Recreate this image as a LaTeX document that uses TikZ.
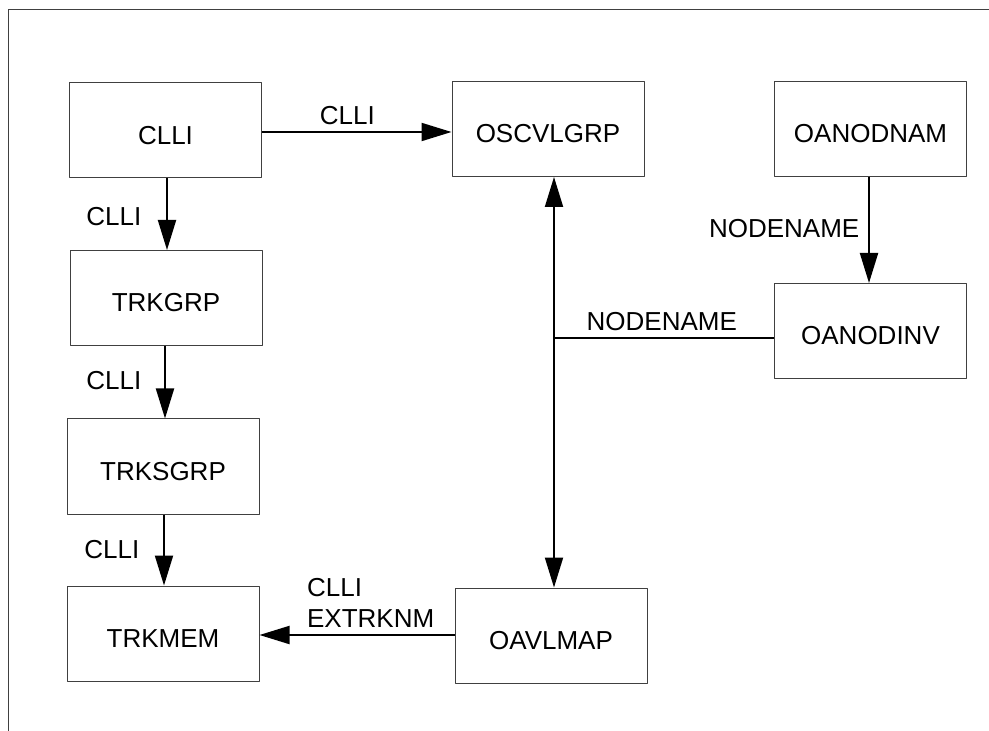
\documentclass[tikz,border=0pt]{standalone}
\usepackage{fontspec}
\setmainfont{Liberation Sans}
\usetikzlibrary{arrows.meta}
\begin{document}
\begin{tikzpicture}[x=0.5pt,y=-0.5pt,>={Triangle[length=15pt,width=9pt]},line join=round,
	font=\fontsize{13}{15.5}\selectfont,
	tbl/.style={draw=black!75,line width=0.5pt,minimum width=96pt,minimum height=47.5pt,inner sep=0pt,
		text height=14pt,text depth=0pt},
	link/.style={line width=1pt}]
	\useasboundingbox (0,0) rectangle (989,731);
	\draw[black!75,line width=0.5pt] (8.5,731) -- (8.5,9.5) -- (989,9.5);
	% tables
	\node[tbl] (clli) at (165.5,130.5) {CLLI};
	\node[tbl] (trkgrp) at (166,298) {TRKGRP};
	\node[tbl] (trksgrp) at (163,466.5) {TRKSGRP};
	\node[tbl] (trkmem) at (163,633.5) {TRKMEM};
	\node[tbl] (oscvlgrp) at (548,129) {OSCVLGRP};
	\node[tbl] (oavlmap) at (551,635.5) {OAVLMAP};
	\node[tbl] (oanodnam) at (870.5,129) {OANODNAM};
	\node[tbl] (oanodinv) at (870.5,331) {OANODINV};
	\coordinate (bus) at (554,338);
	% keys
	\draw[link,->] (clli.east |- 0,132) -- (oscvlgrp.west |- 0,132) node[above,pos=0.45] {CLLI};
	\draw[link,->] (clli.south -| 167,0) -- (trkgrp.north -| 167,0) node[left=9pt,pos=0.53] {CLLI};
	\draw[link,->] (trkgrp.south -| 165,0) -- (trksgrp.north -| 165,0) node[left=8pt,pos=0.48] {CLLI};
	\draw[link,->] (trksgrp.south -| 164,0) -- (trkmem.north -| 164,0) node[left=8.5pt,midway] {CLLI};
	\draw[link,->] (oavlmap.west |- 0,635) -- (trkmem.east |- 0,635) node[above,align=left,pos=0.43] {CLLI\\EXTRKNM};
	\draw[link,<->] (oscvlgrp.south -| bus) -- (oavlmap.north -| bus);
	\draw[link] (bus) -- (bus -| oanodinv.west) node[above,pos=0.49] {NODENAME};
	\draw[link,->] (oanodnam.south -| 869,0) -- (oanodinv.north -| 869,0) node[left=1pt,pos=0.49] {NODENAME};
\end{tikzpicture}
\end{document}
